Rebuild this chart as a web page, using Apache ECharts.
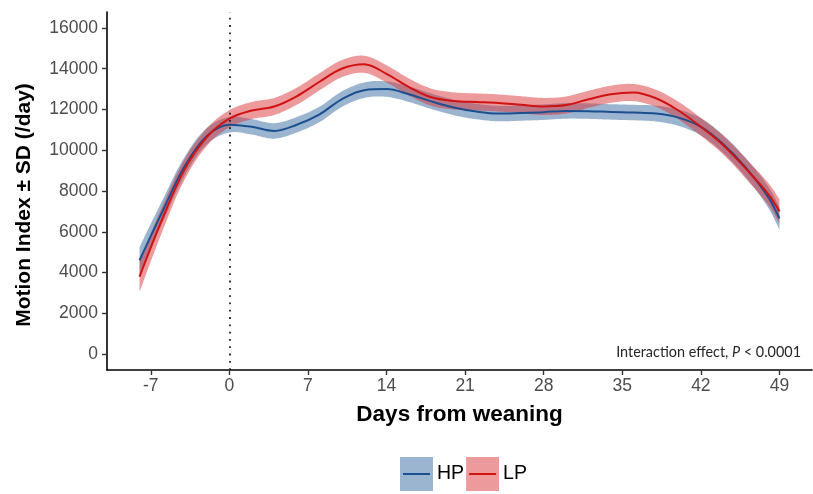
<!DOCTYPE html>
<html>
<head>
<meta charset="utf-8">
<script src="https://cdn.jsdelivr.net/npm/echarts@6/dist/echarts.min.js"></script>
<style>
  html, body { margin: 0; padding: 0; background: #fff; }
  #main { width: 813px; height: 494px; }
</style>
</head>
<body>
<div id="main"></div>
<script>
// days from weaning and the smoothed means / SD
const days = [-8, -6, -4, -2, 0, 2, 4, 6, 8, 10, 12, 14, 16, 18, 20, 22, 24, 26, 28, 30, 32, 34, 36, 38, 40, 42, 44, 46, 48, 49];
const hpMean = [4600, 6950, 9200, 10700, 11250, 11150, 10950, 11250, 11750, 12500, 12950, 13000, 12750, 12400, 12100, 11900, 11800, 11830, 11870, 11930, 11920, 11880, 11850, 11800, 11600, 11150, 10300, 9150, 7700, 6650];
const hpSd = [650, 560, 460, 400, 380, 380, 380, 380, 380, 380, 380, 380, 380, 380, 380, 380, 380, 380, 380, 380, 380, 380, 380, 390, 400, 420, 440, 470, 520, 560];
const lpMean = [3800, 6600, 9050, 10650, 11550, 11950, 12150, 12650, 13350, 14000, 14220, 13750, 13100, 12600, 12420, 12370, 12320, 12230, 12150, 12220, 12500, 12750, 12830, 12550, 11950, 11150, 10250, 9100, 7850, 7000];
const lpSd = [750, 620, 500, 430, 420, 420, 420, 420, 420, 420, 420, 420, 420, 420, 420, 420, 420, 420, 420, 420, 420, 420, 420, 420, 430, 440, 460, 490, 540, 600];

const xTicks = [-7, 0, 7, 14, 21, 28, 35, 42, 49];
const yTicks = [0, 2000, 4000, 6000, 8000, 10000, 12000, 14000, 16000];

const SMOOTH = 0.35;
const FONT = "'Liberation Sans', Arial, sans-serif";

const hpLine = "#1c4f8f";
const lpLine = "#d01212";
const hpBand = "rgba(55,107,163,0.5)";
const lpBand = "rgba(217,53,55,0.5)";

// same control point rule as the line smoothing, sampled into a polygon edge
function smoothEdge(pts) {
  const n = pts.length;
  const cpPrev = [], cpNext = [];
  for (let i = 0; i < n; i++) {
    const p = pts[i];
    if (i === 0 || i === n - 1) {
      cpPrev.push(p); cpNext.push(p);
      continue;
    }
    const a = pts[i - 1], b = pts[i + 1];
    const vx = b[0] - a[0], vy = b[1] - a[1];
    const d0 = Math.hypot(p[0] - a[0], p[1] - a[1]);
    const d1 = Math.hypot(b[0] - p[0], b[1] - p[1]);
    const r = d1 / (d0 + d1);
    cpNext.push([p[0] + vx * SMOOTH * r, p[1] + vy * SMOOTH * r]);
    cpPrev.push([p[0] - vx * SMOOTH * (1 - r), p[1] - vy * SMOOTH * (1 - r)]);
  }
  const out = [pts[0]];
  for (let i = 0; i < n - 1; i++) {
    const p0 = pts[i], c0 = cpNext[i], c1 = cpPrev[i + 1], p1 = pts[i + 1];
    for (let k = 1; k <= 12; k++) {
      const t = k / 12, u = 1 - t;
      out.push([
        u * u * u * p0[0] + 3 * u * u * t * c0[0] + 3 * u * t * t * c1[0] + t * t * t * p1[0],
        u * u * u * p0[1] + 3 * u * u * t * c0[1] + 3 * u * t * t * c1[1] + t * t * t * p1[1]
      ]);
    }
  }
  return out;
}

function bandSeries(name, mean, sd, color) {
  return {
    name: name,
    type: "custom",
    silent: true,
    data: [[days[0], mean[0]]],
    renderItem: function (params, api) {
      const upper = smoothEdge(days.map((d, i) => api.coord([d, mean[i] + sd[i]])));
      const lower = smoothEdge(days.map((d, i) => api.coord([d, mean[i] - sd[i]])));
      return {
        type: "polygon",
        shape: { points: upper.concat(lower.reverse()) },
        style: { fill: color }
      };
    }
  };
}

function legendIcon(fill, stroke) {
  const svg = '<svg xmlns="http://www.w3.org/2000/svg" width="33" height="34">' +
    '<rect width="33" height="34" fill="' + fill + '"/>' +
    '<line x1="3" y1="17" x2="30" y2="17" stroke="' + stroke + '" stroke-width="2"/></svg>';
  return "image://data:image/svg+xml;charset=utf-8," + encodeURIComponent(svg);
}

const chart = echarts.init(document.getElementById("main"), null, { renderer: "canvas" });

const option = {
  animation: false,
  backgroundColor: "#fff",
  grid: { left: 107, right: 1, top: 12, bottom: 124 },
  title: {
    text: "Interaction effect, {i|P} < 0.0001",
    right: 12,
    top: 345,
    padding: 0,
    textStyle: {
      fontFamily: "Lato, 'Open Sans', sans-serif",
      fontSize: 14.4,
      fontWeight: "normal",
      color: "#262626",
      rich: {
        i: { fontFamily: "Lato, 'Open Sans', sans-serif", fontSize: 14.4, fontStyle: "italic", color: "#262626" }
      }
    }
  },
  legend: {
    left: 400,
    top: 457,
    itemWidth: 33,
    itemHeight: 34,
    itemGap: 2,
    padding: 0,
    selectedMode: false,
    textStyle: { fontFamily: FONT, fontSize: 19.5, color: "#000", padding: [0, 0, 0, -1] },
    data: [
      { name: "HP", icon: legendIcon("#9bb5d1", hpLine) },
      { name: "LP", icon: legendIcon("#ec9a9b", lpLine) }
    ]
  },
  xAxis: {
    type: "value",
    min: -10.9,
    max: 51.9,
    name: "Days from weaning",
    nameLocation: "middle",
    nameGap: 33,
    nameTextStyle: { fontFamily: FONT, fontSize: 22.5, fontWeight: "bold", color: "#000" },
    axisLine: { onZero: false, lineStyle: { color: "#000", width: 1.6 } },
    axisTick: { customValues: xTicks, length: 5, lineStyle: { color: "#333", width: 1.4 } },
    axisLabel: {
      customValues: xTicks, margin: 7, fontFamily: FONT, fontSize: 17.5, color: "#4d4d4d",
      formatter: (v) => String(v)
    },
    splitLine: { show: false }
  },
  yAxis: {
    type: "value",
    min: -785,
    max: 16785,
    name: "Motion Index ± SD (/day)",
    nameLocation: "middle",
    nameGap: 72,
    nameTextStyle: {
      fontFamily: FONT, fontSize: 21, fontWeight: "bold", color: "#000",
      padding: [0, 28, 0, 0]
    },
    axisLine: { onZero: false, lineStyle: { color: "#000", width: 1.6 } },
    axisTick: { customValues: yTicks, length: 5, lineStyle: { color: "#333", width: 1.4 } },
    axisLabel: {
      customValues: yTicks, margin: 9, fontFamily: FONT, fontSize: 17.5, color: "#4d4d4d",
      formatter: (v) => String(v)
    },
    splitLine: { show: false }
  },
  series: [
    bandSeries("HP", hpMean, hpSd, hpBand),
    {
      name: "HP",
      type: "line",
      smooth: SMOOTH,
      showSymbol: false,
      silent: true,
      lineStyle: { color: hpLine, width: 2 },
      itemStyle: { color: hpLine },
      data: days.map((d, i) => [d, hpMean[i]])
    },
    bandSeries("LP", lpMean, lpSd, lpBand),
    {
      name: "LP",
      type: "line",
      smooth: SMOOTH,
      showSymbol: false,
      silent: true,
      lineStyle: { color: lpLine, width: 2 },
      itemStyle: { color: lpLine },
      data: days.map((d, i) => [d, lpMean[i]]),
      markLine: {
        silent: true,
        symbol: "none",
        label: { show: false },
        lineStyle: { color: "#222", width: 1.8, type: [1.8, 5.5] },
        data: [{ xAxis: 0 }]
      }
    }
  ]
};

chart.setOption(option);
</script>
</body>
</html>
